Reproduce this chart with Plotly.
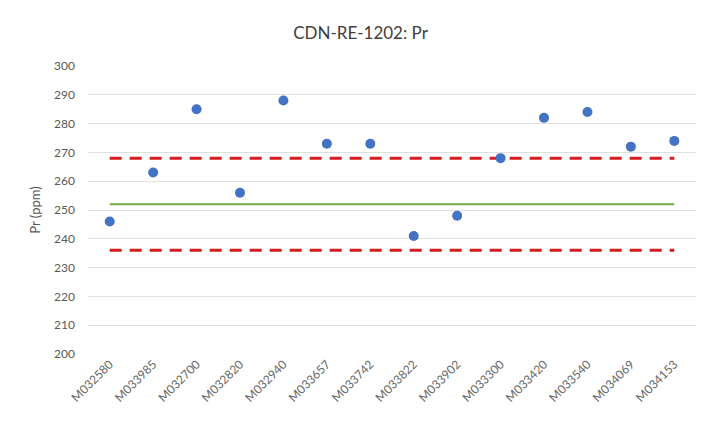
import plotly.graph_objects as go

# Sample IDs and measured Pr values (ppm)
samples = ["M032580", "M033985", "M032700", "M032820", "M032940", "M033657", "M033742",
           "M033822", "M033902", "M033300", "M033420", "M033540", "M034069", "M034153"]
pr_values = [246, 263, 285, 256, 288, 273, 273, 241, 248, 268, 282, 284, 272, 274]

# Certified value and acceptance limits
certified_value = 252
upper_limit = 268
lower_limit = 236

y_ticks = [200, 210, 220, 230, 240, 250, 260, 270, 280, 290, 300]

font_family = "Lato, 'Open Sans', sans-serif"

fig = go.Figure()

fig.add_trace(go.Scatter(
    x=samples, y=[upper_limit] * len(samples), mode="lines",
    line=dict(color="#D91A1F", width=3, dash="12px,8px"),
    hoverinfo="skip", showlegend=False,
))
fig.add_trace(go.Scatter(
    x=samples, y=[lower_limit] * len(samples), mode="lines",
    line=dict(color="#D91A1F", width=3, dash="12px,8px"),
    hoverinfo="skip", showlegend=False,
))
fig.add_trace(go.Scatter(
    x=samples, y=[certified_value] * len(samples), mode="lines",
    line=dict(color="#70AD47", width=2.2),
    hoverinfo="skip", showlegend=False,
))
fig.add_trace(go.Scatter(
    x=samples, y=pr_values, mode="markers",
    marker=dict(color="#4472C4", size=10, line=dict(width=0)),
    showlegend=False,
))

fig.update_layout(
    width=721, height=427,
    margin=dict(l=88, r=25, t=66, b=73),
    paper_bgcolor="white", plot_bgcolor="white",
    font=dict(family=font_family, color="#595959"),
    title=dict(text="CDN-RE-1202: Pr", x=0.5, xanchor="center", y=0.923, yanchor="middle",
               font=dict(size=17, color="#404040", family=font_family)),
    xaxis=dict(
        type="category", tickangle=-45, tickfont=dict(size=12, color="#666666"),
        showgrid=False, showline=False, zeroline=False, ticks="",
        range=[-0.5, len(samples) - 0.5],
    ),
    yaxis=dict(
        range=[200, 300], tickvals=y_ticks, tickfont=dict(size=12, color="#595959"),
        showgrid=True, gridcolor="#E0E0E0", gridwidth=1, zeroline=False,
        showline=False, ticks="", ticklabelstandoff=12,
        title=dict(text="Pr (ppm)", font=dict(size=13, color="#595959"), standoff=10),
    ),
)

fig.write_html("out.html")
